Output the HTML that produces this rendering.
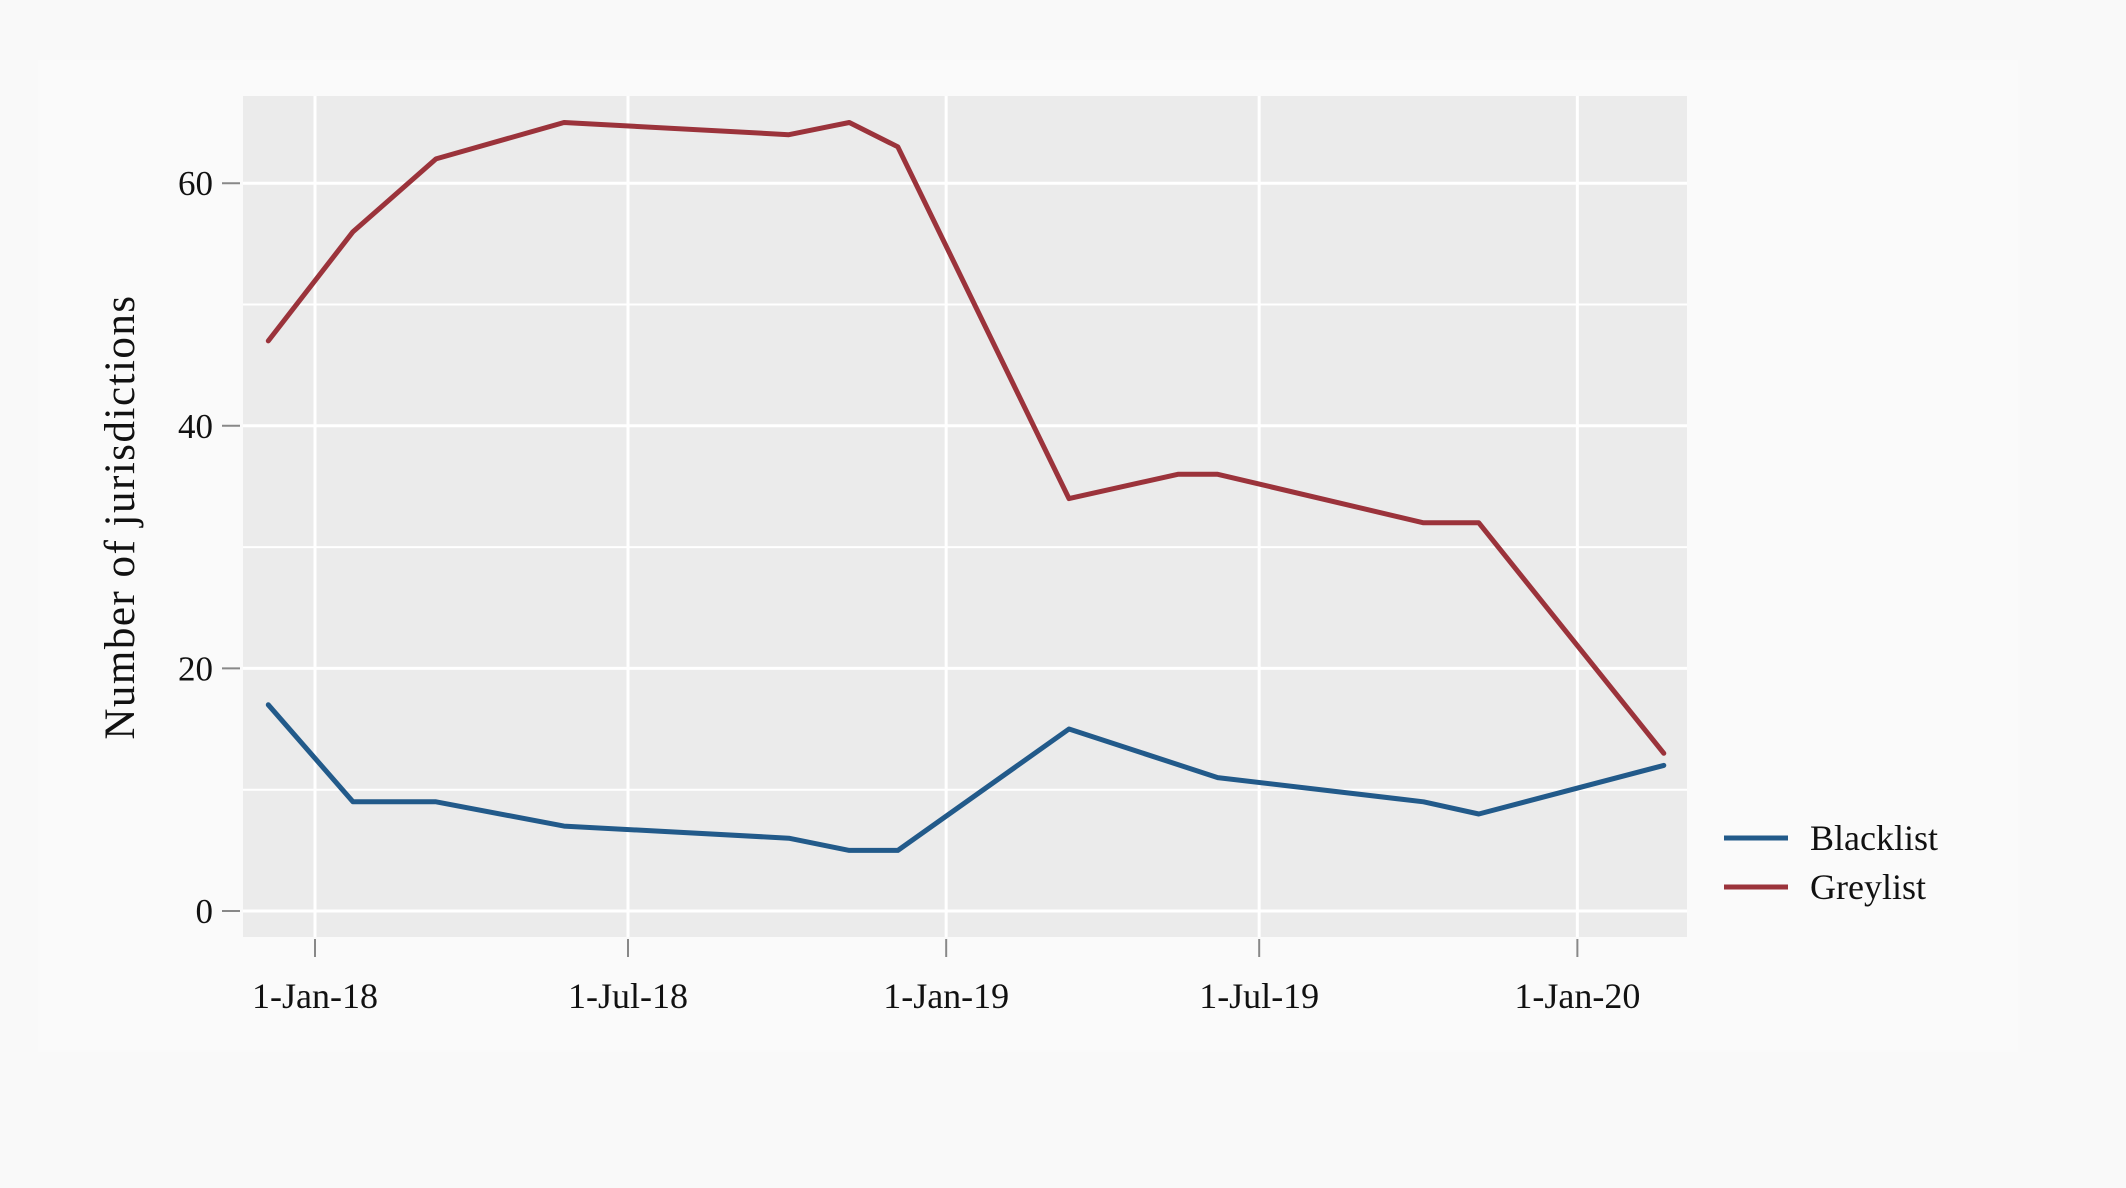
<!DOCTYPE html>
<html><head><meta charset="utf-8"><style>
html,body{margin:0;padding:0;background:#f9f9f9;}
svg{display:block;font-family:"Liberation Serif",serif;}
</style></head><body>
<svg id="chart" width="2126" height="1188" viewBox="0 0 2126 1188">
<rect x="38" y="60" width="1980" height="992" fill="#fafafa"/>
<rect x="243" y="96" width="1444" height="841" fill="#ebebeb"/>
<g id="grid"></g>
<g id="axes"></g>
<g id="series"></g>
<text transform="translate(134,517) rotate(-90)" text-anchor="middle" font-size="43" letter-spacing="1.5" fill="#111">Number of jurisdictions</text>
<g>
<g>
<line x1="1724" y1="838" x2="1788" y2="838" stroke="#225a8a" stroke-width="5"/>
<text x="1810" y="850" font-size="36" fill="#111">Blacklist</text></g>
<g>
<line x1="1724" y1="887" x2="1788" y2="887" stroke="#9b333b" stroke-width="5"/>
<text x="1810" y="899" font-size="36" fill="#111">Greylist</text></g>
</g>
</svg>
<script>
const greyDates=["2017-12-05","2018-01-23","2018-03-12","2018-05-25","2018-10-02","2018-11-06","2018-12-04","2019-03-13","2019-05-15","2019-06-07","2019-10-04","2019-11-05","2020-02-20"];
const greyValues=[47,56,62,65,64,65,63,34,36,36,32,32,13];
const blackDates=["2017-12-05","2018-01-23","2018-03-12","2018-05-25","2018-10-02","2018-11-06","2018-12-04","2019-03-13","2019-06-07","2019-10-04","2019-11-05","2020-02-20"];
const blackValues=[17,9,9,7,6,5,5,15,11,9,8,12];
const xTickDates=["2018-01-01","2018-07-01","2019-01-01","2019-07-01","2020-01-01"];
const xTickLabels=["1-Jan-18","1-Jul-18","1-Jan-19","1-Jul-19","1-Jan-20"];
const yTicks=[0,20,40,60];
const yMinor=[10,30,50];
const NS="http://www.w3.org/2000/svg";
const d0=Date.UTC(2018,0,1),d1=Date.UTC(2018,6,1);
function day(s){const p=s.split("-");return Date.UTC(+p[0],+p[1]-1,+p[2]);}
function X(s){return 315+(day(s)-d0)/(d1-d0)*313;}
function Y(v){return 911-v*12.13;}
function mk(tag,attrs,parent){const e=document.createElementNS(NS,tag);for(const k in attrs)e.setAttribute(k,attrs[k]);parent.appendChild(e);return e;}
const grid=document.getElementById("grid"),axes=document.getElementById("axes"),series=document.getElementById("series");
yMinor.forEach(v=>{const l=mk("line",{x1:243,x2:1687,y1:Y(v),y2:Y(v),stroke:"#fff","stroke-width":2},grid);

});
yTicks.forEach(v=>{const l=mk("line",{x1:243,x2:1687,y1:Y(v),y2:Y(v),stroke:"#fff","stroke-width":3},grid);


const t=mk("line",{x1:222,x2:240,y1:Y(v),y2:Y(v),stroke:"#888","stroke-width":2},axes);


const tx=mk("text",{x:213,y:Y(v)+12,"text-anchor":"end","font-size":35,fill:"#111"},axes);tx.textContent=v;

});
xTickDates.forEach((d,i)=>{const x=X(d);
const l=mk("line",{x1:x,x2:x,y1:96,y2:937,stroke:"#fff","stroke-width":3},grid);


const t=mk("line",{x1:x,x2:x,y1:939,y2:957,stroke:"#888","stroke-width":2},axes);


const tx=mk("text",{x:x,y:1008,"text-anchor":"middle","font-size":36,fill:"#111"},axes);tx.textContent=xTickLabels[i];

});
function line(dates,vals,color,name){const pts=dates.map((d,i)=>X(d).toFixed(1)+","+Y(vals[i]).toFixed(1)).join(" ");
const p=mk("polyline",{points:pts,fill:"none",stroke:color,"stroke-width":5,"stroke-linejoin":"round","stroke-linecap":"round"},series);

}
line(blackDates,blackValues,"#225a8a","blacklist-line");
line(greyDates,greyValues,"#9b333b","greylist-line");
</script>
</body></html>
